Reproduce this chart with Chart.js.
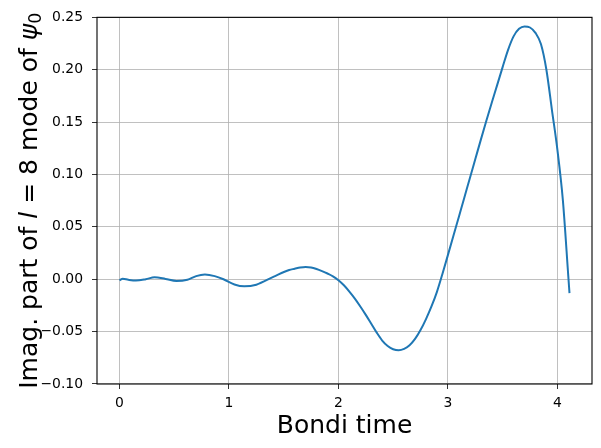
<!DOCTYPE html>
<html>
<head>
<meta charset="utf-8">
<script src="https://cdn.jsdelivr.net/npm/chart.js@4"></script>
<style>
  html, body { margin: 0; padding: 0; background: #fff; }
  #wrap { width: 601px; height: 448px; }
</style>
</head>
<body>
<div id="wrap"><canvas id="chart" width="601" height="448"></canvas></div>
<script>
// Bondi time samples and imaginary part of the l=8 mode of psi0
let bondiTime = [0.00, 0.03, 0.08, 0.15, 0.24, 0.32, 0.42, 0.52, 0.62, 0.70, 0.78, 0.87, 0.95,
    1.05, 1.14, 1.25, 1.41, 1.55, 1.60, 1.65, 1.70, 1.75, 1.80, 1.85, 1.90, 1.95, 2.00, 2.05,
    2.10, 2.15, 2.20, 2.25, 2.30, 2.35, 2.40, 2.45, 2.50, 2.55, 2.60, 2.65, 2.70, 2.75, 2.80,
    2.85, 2.90, 2.95, 3.00, 3.05, 3.10, 3.15, 3.20, 3.25, 3.30, 3.35, 3.40, 3.45, 3.50, 3.55,
    3.60, 3.65, 3.70, 3.75, 3.80, 3.85, 3.90, 3.95, 4.00, 4.05, 4.10, 4.111];
let psiImag = [-0.0010, 0.0005, -0.0005, -0.0013, 0.0000, 0.0019, 0.0003, -0.0017, -0.0005, 0.0030,
    0.0045, 0.0030, 0.0000, -0.0050, -0.0068, -0.0052, 0.0025, 0.0088, 0.0100, 0.0112, 0.0118,
    0.0113, 0.0098, 0.0078, 0.0055, 0.0028, -0.0010, -0.0058, -0.0118, -0.0185, -0.0260, -0.0340,
    -0.0425, -0.0510, -0.0585, -0.0637, -0.0668, -0.0678, -0.0665, -0.0630, -0.0570, -0.0485,
    -0.0380, -0.0260, -0.0120, 0.0050, 0.0230, 0.0412, 0.0595, 0.0778, 0.0962, 0.1145, 0.1328,
    0.1508, 0.1682, 0.1853, 0.2025, 0.2190, 0.2318, 0.2390, 0.2413, 0.2403, 0.2352, 0.2245,
    0.2000, 0.1620, 0.1240, 0.0760, 0.0030, -0.0133];

let xTicks = [0, 1, 2, 3, 4];
let yTicks = [-0.10, -0.05, 0.00, 0.05, 0.10, 0.15, 0.20, 0.25];
let xRange = [-0.2056, 4.3166];
let yRange = [-0.10, 0.25];

let points = [];
for (let i = 0; i < bondiTime.length; i++) {
    points.push({ x: bondiTime[i], y: psiImag[i] });
}

function formatY(v) {
    let s = v.toFixed(2);
    if (s == '-0.00') s = '0.00';
    return s.replace('-', '\u2212');
}

// frame on all four sides plus the two axis titles
const framePlugin = {
    id: 'frame',
    afterDraw(chart) {
        const ctx = chart.ctx;
        const a = chart.chartArea;
        ctx.save();
        ctx.strokeStyle = '#000';
        ctx.lineWidth = 1.1;
        ctx.strokeRect(a.left, a.top, a.right - a.left, a.bottom - a.top);

        ctx.fillStyle = '#000';
        ctx.textBaseline = 'alphabetic';
        ctx.textAlign = 'center';
        ctx.font = '25px "DejaVu Sans"';
        ctx.fillText('Bondi time', (a.left + a.right) / 2, 433);

        // y title with italic l and psi with subscript 0
        let parts = [
            ['Imag. part of ', '25px "DejaVu Sans"', 0],
            ['l', 'italic 25px "DejaVu Sans"', 0],
            [' = 8 mode of ', '25px "DejaVu Sans"', 0],
            ['\u03c8', 'italic 25px "DejaVu Sans"', 0],
            ['0', '17.5px "DejaVu Sans"', 4]
        ];
        let total = 0;
        for (let i = 0; i < parts.length; i++) {
            ctx.font = parts[i][1];
            total += ctx.measureText(parts[i][0]).width;
        }
        ctx.translate(37, (a.top + a.bottom) / 2);
        ctx.rotate(-Math.PI / 2);
        ctx.textAlign = 'left';
        let x = -total / 2;
        for (let i = 0; i < parts.length; i++) {
            ctx.font = parts[i][1];
            ctx.fillText(parts[i][0], x, parts[i][2]);
            x += ctx.measureText(parts[i][0]).width;
        }
        ctx.restore();
    }
};

Chart.defaults.color = '#000';
Chart.defaults.font.family = '"DejaVu Sans"';

new Chart(document.getElementById('chart'), {
    type: 'line',
    data: {
        datasets: [{
            data: points,
            borderColor: '#1f77b4',
            borderWidth: 2,
            pointRadius: 0,
            fill: false,
            cubicInterpolationMode: 'monotone'
        }]
    },
    options: {
        responsive: false,
        animation: false,
        devicePixelRatio: 1,
        layout: { padding: { top: 16, right: 9, left: 0, bottom: 0 } },
        plugins: { legend: { display: false }, tooltip: { enabled: false } },
        scales: {
            x: {
                type: 'linear',
                min: xRange[0],
                max: xRange[1],
                afterBuildTicks: (scale) => { scale.ticks = xTicks.map(v => ({ value: v })); },
                afterFit: (scale) => { scale.height = 64; },
                border: { display: false },
                grid: { color: '#b0b0b0', lineWidth: 0.8, tickColor: '#000', tickLength: 5 },
                ticks: { font: { size: 13.9 }, padding: 6, maxRotation: 0, callback: (v) => String(v) }
            },
            y: {
                type: 'linear',
                min: yRange[0],
                max: yRange[1],
                afterBuildTicks: (scale) => { scale.ticks = yTicks.map(v => ({ value: v })); },
                afterFit: (scale) => { scale.width = 97; },
                border: { display: false },
                grid: { color: '#b0b0b0', lineWidth: 0.8, tickColor: '#000', tickLength: 5 },
                ticks: { font: { size: 13.9 }, padding: 9, callback: (v) => formatY(v) }
            }
        }
    },
    plugins: [framePlugin]
});
</script>
</body>
</html>
